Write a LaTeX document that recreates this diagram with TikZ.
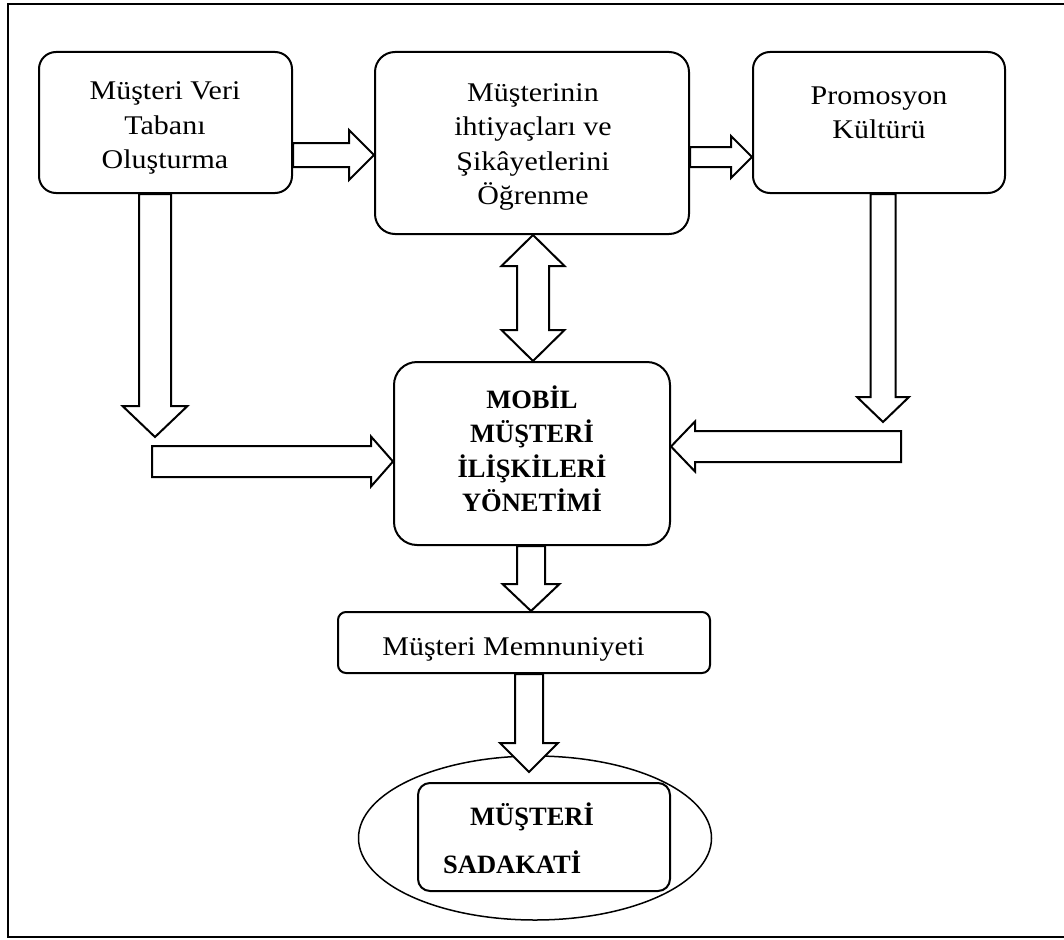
\documentclass[tikz,border=0pt]{standalone}
\usepackage{fontspec}
\usetikzlibrary{calc,shapes.geometric}
\newfontfamily\camfont[FakeStretch=1.11]{Liberation Serif}
\newfontfamily\tnrfont{Liberation Serif}

% block arrow: #1 start, #2 tip, #3 shaft half width, #4 head half width, #5 head length
\newcommand\blkarrow[5]{%
  \coordinate (hb) at ($(#2)!#5!(#1)$);
  \draw[barrow] ($(#1)!#3!90:(#2)$) -- ($(hb)!#3!90:(#2)$) -- ($(hb)!#4!90:(#2)$)
    -- (#2) -- ($(hb)!#4!-90:(#2)$) -- ($(hb)!#3!-90:(#2)$) -- ($(#1)!#3!-90:(#2)$) -- cycle;
}
% double block arrow between #1 and #2
\newcommand\dblarrow[5]{%
  \coordinate (ha) at ($(#1)!#5!(#2)$);
  \coordinate (hz) at ($(#2)!#5!(#1)$);
  \draw[barrow] (#1) -- ($(ha)!#4!90:(#2)$) -- ($(ha)!#3!90:(#2)$) -- ($(hz)!#3!90:(#2)$)
    -- ($(hz)!#4!90:(#2)$) -- (#2) -- ($(hz)!#4!-90:(#2)$) -- ($(hz)!#3!-90:(#2)$)
    -- ($(ha)!#3!-90:(#2)$) -- ($(ha)!#4!-90:(#2)$) -- cycle;
}

\begin{document}
\begin{tikzpicture}[x=1pt,y=-1pt,
  box/.style={draw, line width=2pt, rounded corners=#1, inner sep=0pt},
  barrow/.style={draw, fill=white, line width=2pt, line join=miter},
  txt/.style={align=center, inner sep=0pt, font={\camfont\fontsize{27}{34.5}\selectfont}},
  bold/.style={align=center, inner sep=0pt, font={\tnrfont\bfseries\fontsize{26.5}{34.5}\selectfont}},
  loyal/.style={inner sep=0pt, font={\tnrfont\bfseries\fontsize{26.5}{30}\selectfont}}]
\useasboundingbox (0,0) rectangle (1064,939);

% outer frame
\draw[line width=2.5pt] (1066,4) -- (8,4) -- (8,937) -- (1066,937);

% boxes
\node[box=17pt, minimum width=253pt, minimum height=141pt] (b1) at (165.5,122.5) {};
\node[box=20pt, minimum width=314pt, minimum height=182pt] (b2) at (532,143) {};
\node[box=17pt, minimum width=252pt, minimum height=141pt] (b3) at (879,122.5) {};
\node[box=23pt, minimum width=276pt, minimum height=183pt] (mob) at (532,453.5) {};
\node[box=8pt, minimum width=372pt, minimum height=61pt] (mem) at (524,642.5) {};
\node[draw, ellipse, line width=1.5pt, minimum width=353pt, minimum height=164pt, inner sep=0pt] (ell) at (535,838) {};
\node[box=12pt, minimum width=252pt, minimum height=108pt] (inr) at (544,837) {};

% texts
\node[txt] (t1) at (165,128) {Müşteri Veri\\Tabanı\\Oluşturma};
\node[txt] (t2) at (533,147) {Müşterinin\\ihtiyaçları ve\\Şikâyetlerini\\Öğrenme};
\node[txt] (t3) at (879,113) {Promosyon\\Kültürü};
\node[bold] (tm) at (532,449) {MOBİL\\MÜŞTERİ\\İLİŞKİLERİ\\YÖNETİMİ};
\node[txt, anchor=base] (tmem) at (513.5,655) {Müşteri Memnuniyeti};
\node[loyal, anchor=base west] (ts1) at (470,825) {MÜŞTERİ};
\node[loyal, anchor=base west] (ts2) at (443,873) {SADAKATİ};

% free ends of the long arrows
\coordinate (c1) at (155,437);
\coordinate (c2) at (152,461.5);
\coordinate (c3) at (883,422);
\coordinate (c4) at (901,446.5);

% arrows
\blkarrow{b1.east |- 0,155}{b2.west |- 0,155}{12pt}{25pt}{25pt}
\blkarrow{b2.east |- 0,157}{b3.west |- 0,157}{10pt}{21pt}{21pt}
\dblarrow{533,235}{533,361}{16pt}{31.5pt}{31pt}
\blkarrow{b3.south -| c3}{c3}{12.5pt}{26pt}{25pt}
\blkarrow{c4}{mob.east |- c4}{15.5pt}{25pt}{24pt}
\blkarrow{b1.south -| c1}{c1}{16pt}{32.5pt}{31pt}
\blkarrow{c2}{mob.west |- c2}{15.5pt}{25pt}{22pt}
\blkarrow{mob.south -| 531,0}{mem.north -| 531,0}{14pt}{28.5pt}{27pt}
\blkarrow{mem.south -| 529,0}{529,772}{14pt}{29pt}{29pt}
\end{tikzpicture}
\end{document}
